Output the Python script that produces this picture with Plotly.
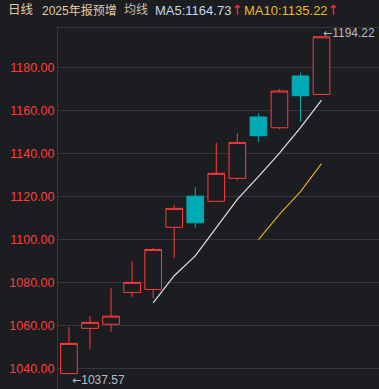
import plotly.graph_objects as go

# ---- data ----
idx = list(range(13))
opens = [1037.57, 1058.6, 1060.5, 1075.3, 1076.7, 1105.6, 1120.1, 1117.7, 1128.4, 1156.9, 1151.9, 1176.0, 1167.4]
highs = [1059.2, 1064.3, 1077.3, 1089.9, 1096.1, 1116.0, 1124.2, 1144.8, 1149.4, 1158.7, 1169.9, 1177.5, 1194.22]
lows = [1037.57, 1049.1, 1057.0, 1073.3, 1072.6, 1091.3, 1105.4, 1117.7, 1127.6, 1145.3, 1151.3, 1154.7, 1167.4]
closes = [1051.6, 1061.4, 1064.3, 1080.0, 1095.3, 1114.4, 1107.7, 1130.7, 1145.1, 1148.2, 1169.0, 1166.8, 1194.22]
ma5_x = [4, 5, 6, 7, 8, 9, 10, 11, 12]
ma5 = [1070.5, 1083.1, 1092.3, 1105.6, 1118.6, 1129.2, 1140.1, 1152.0, 1164.73]
ma10_x = [9, 10, 11, 12]
ma10 = [1099.9, 1111.6, 1122.2, 1135.22]
yticks = [1040, 1060, 1080, 1100, 1120, 1140, 1160, 1180]
ytick_text = ["1040.00", "1060.00", "1080.00", "1100.00", "1120.00", "1140.00", "1160.00", "1180.00"]

BG = "#1c1d21"
RED = "#ff3b3b"
TEAL = "#00aab5"
GRID = "#35363a"
FONT = "Liberation Sans, Noto Sans CJK SC, sans-serif"

fig = go.Figure()
fig.add_trace(go.Candlestick(
    x=idx, open=opens, high=highs, low=lows, close=closes,
    increasing=dict(line=dict(color=RED, width=1), fillcolor=BG),
    decreasing=dict(line=dict(color=TEAL, width=1), fillcolor=TEAL),
    whiskerwidth=0, showlegend=False, hoverinfo="skip",
))
fig.add_trace(go.Scatter(x=ma5_x, y=ma5, mode="lines",
                         line=dict(color="#d8d8d8", width=1.3), showlegend=False, hoverinfo="skip"))
fig.add_trace(go.Scatter(x=ma10_x, y=ma10, mode="lines",
                         line=dict(color="#e5b21f", width=1.1), showlegend=False, hoverinfo="skip"))

W, H = 379, 389
L, T = 58, 28
PW = W - L

def px(xp):
    return (xp - L) / PW

ARROW = "<span style='color:#ff2a2a;font-family:DejaVu Sans;font-size:14px'>↑</span>"
LARROW = "<span style='font-family:DejaVu Sans;font-size:11px'>←</span>"
# header
header = [
    (8, "日线", "#e3c9a0", 12.5),
    (42, "2025年报预增", "#e3c9a0", 12),
    (124, "均线", "#c9bfae", 12),
    (155, "MA5:" + f"{ma5[-1]:.2f}" + ARROW, "#c8d6e6", 13),
    (244, "MA10:" + f"{ma10[-1]:.2f}" + ARROW, "#e6bb14", 13),
]
for xp, txt, col, sz in header:
    fig.add_annotation(xref="paper", yref="paper", x=px(xp), y=1 + (T - 10) / (H - T),
                       text=txt, showarrow=False, xanchor="left", yanchor="middle",
                       borderpad=0, borderwidth=0,
                       font=dict(family=FONT, size=sz, color=col))

# price labels
fig.add_annotation(x=idx[-1], y=highs[-1], text=LARROW + f"{highs[-1]:.2f}", showarrow=False,
                   xanchor="left", yanchor="middle", yshift=4, xshift=-1,
                   font=dict(family=FONT, size=12, color="#b4bcc4"))
fig.add_annotation(x=idx[0], y=lows[0], text=LARROW + f"{lows[0]:.2f}", showarrow=False,
                   xanchor="left", yanchor="middle", yshift=-6, xshift=1,
                   font=dict(family=FONT, size=12, color="#b4bcc4"))

fig.update_layout(
    width=W, height=H, paper_bgcolor=BG, plot_bgcolor=BG,
    margin=dict(l=L, r=0, t=T, b=0),
    boxgap=0.21, boxgroupgap=0,
    xaxis=dict(range=[-0.52, 14.73], showgrid=False, zeroline=False, showticklabels=False,
               rangeslider=dict(visible=False), showline=True, linecolor=GRID, side="top",
               ticks=""),
    yaxis=dict(range=[1030.4, 1198.3], tickvals=yticks, ticktext=ytick_text,
               showgrid=True, gridcolor=GRID, gridwidth=1, zeroline=False,
               showline=True, linecolor=GRID, ticks="",
               tickfont=dict(family=FONT, size=12.5, color="#ff3c3c")),
    font=dict(family=FONT),
)
fig.write_html("out.html")
